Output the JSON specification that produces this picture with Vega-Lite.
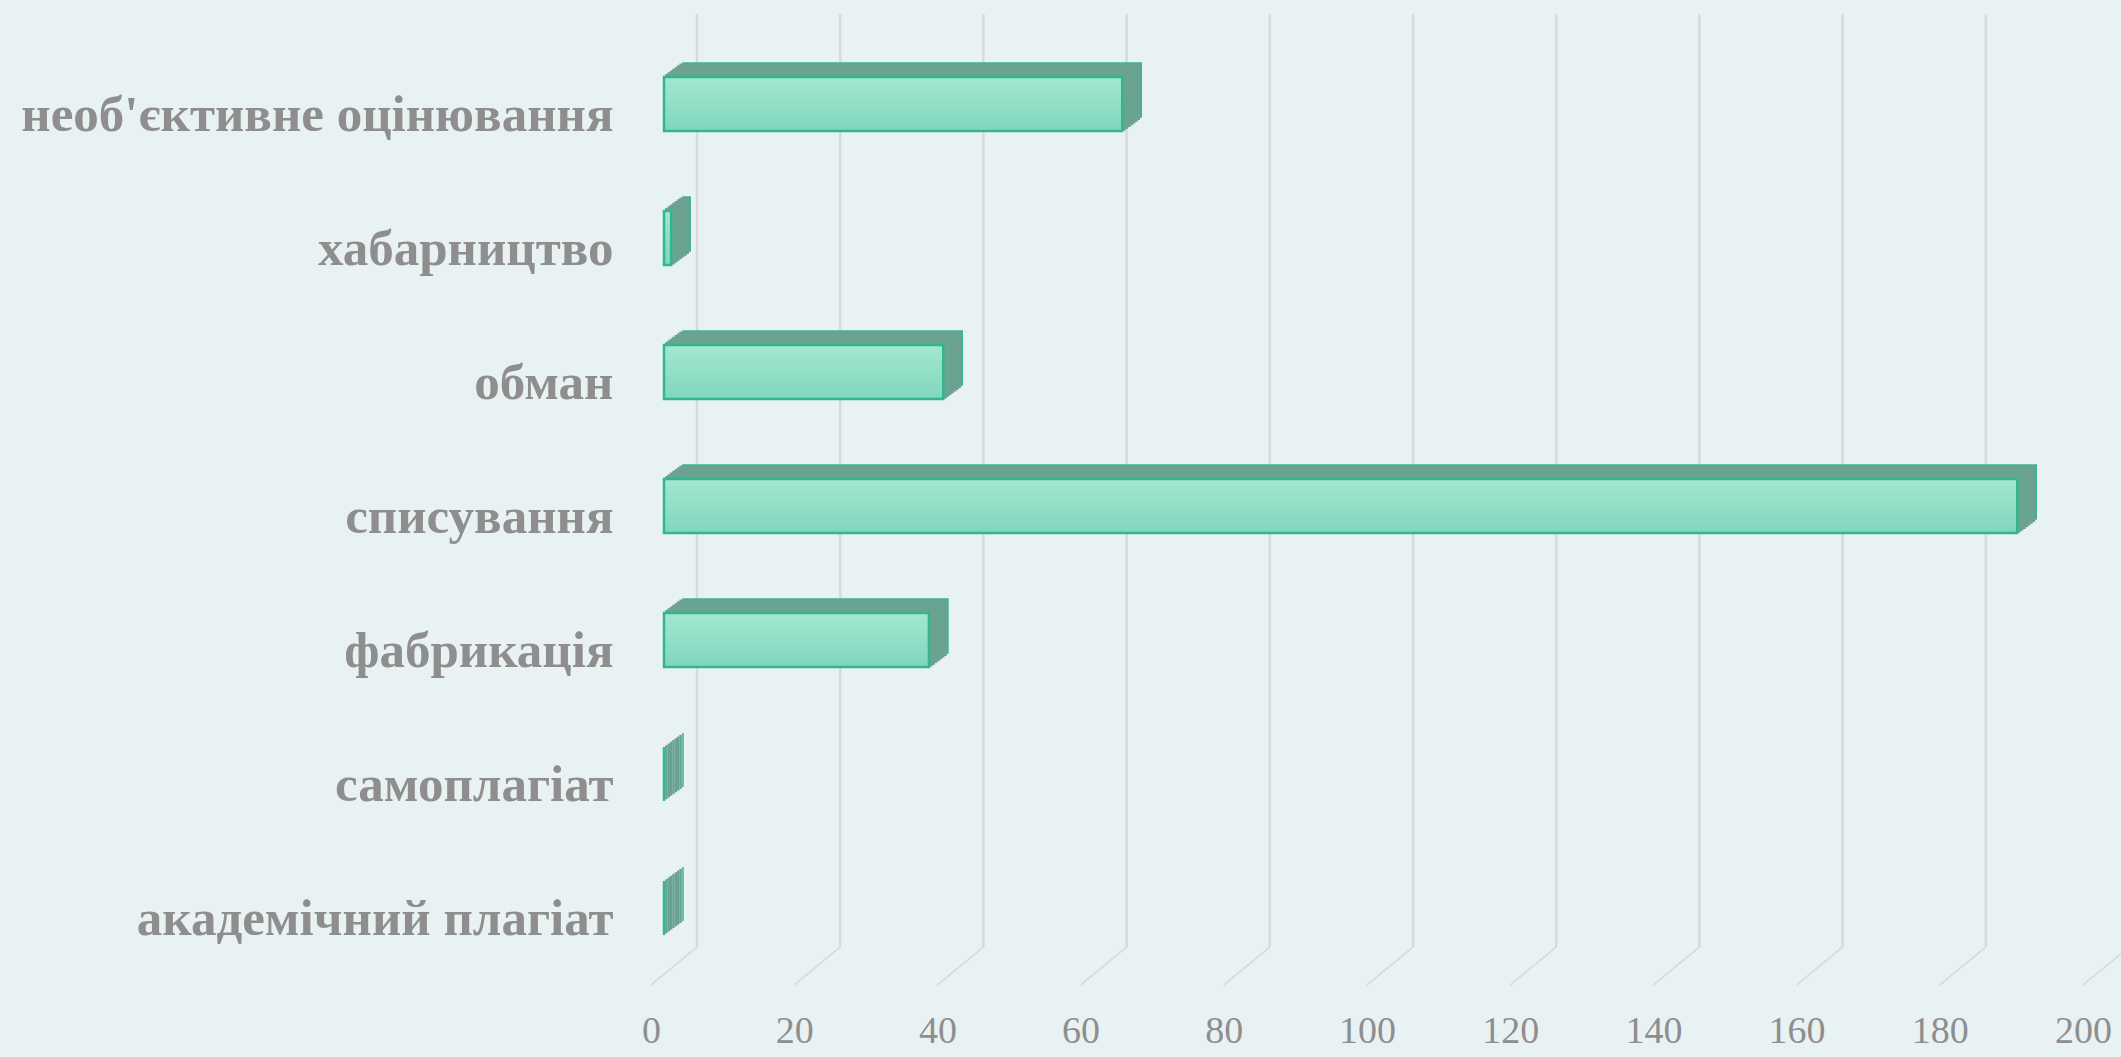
{
  "$schema": "https://vega.github.io/schema/vega-lite/v6.json",
  "width": 1432,
  "height": 938,
  "autosize": "none",
  "padding": {"left": 664, "top": 37, "right": 25, "bottom": 82},
  "background": "#e9f2f3",
  "config": {
    "view": {"stroke": null},
    "axisY": {"domain": false, "ticks": false, "labelPadding": 51,
      "labelOffset": 27, "labelBaseline": "alphabetic", "labelFont": "Liberation Serif",
      "labelFontWeight": "bold", "labelFontSize": 51, "labelColor": "#8e8e8e", "labelLimit": 1000},
    "axisX": {"grid": false, "domain": false, "ticks": false,
      "labelOffset": -13, "labelPadding": 67, "labelBaseline": "alphabetic",
      "labelFont": "Liberation Serif", "labelFontSize": 38, "labelColor": "#8e8e8e",
      "labelFlush": false}
  },
  "datasets": {
    "bars": [
      {"cat": "необ'єктивне оцінювання", "value": 64},
      {"cat": "хабарництво", "value": 1},
      {"cat": "обман", "value": 39},
      {"cat": "списування", "value": 189},
      {"cat": "фабрикація", "value": 37},
      {"cat": "самоплагіат", "value": 0},
      {"cat": "академічний плагіат", "value": 0}
    ],
    "ticks": [{"v":0},{"v":20},{"v":40},{"v":60},{"v":80},{"v":100},{"v":120},{"v":140},{"v":160},{"v":180},{"v":200}]
  },
  "layer": [
    {
      "data": {"name": "bars"},
      "mark": {"type": "bar", "opacity": 0},
      "encoding": {
        "y": {"field": "cat", "type": "nominal",
          "scale": {"domain": ["необ'єктивне оцінювання", "хабарництво", "обман", "списування", "фабрикація", "самоплагіат", "академічний плагіат"],
            "paddingInner": 0.597, "paddingOuter": 0.2985},
          "axis": {"title": null}},
        "x": {"field": "value", "type": "quantitative",
          "scale": {"domain": [0, 200], "nice": false},
          "axis": {"title": null, "values": [0, 20, 40, 60, 80, 100, 120, 140, 160, 180, 200]}}
      }
    },
    {
      "data": {"name": "ticks"},
      "mark": {"type": "rule", "color": "#d9d9d9", "strokeWidth": 2.5, "xOffset": 33, "yOffset": -90, "y2Offset": 39},
      "encoding": {
        "x": {"field": "v", "type": "quantitative"},
        "y": {"datum": "необ'єктивне оцінювання", "type": "nominal"},
        "y2": {"datum": "академічний плагіат"}
      }
    },
    {
      "data": {"name": "ticks"},
      "mark": {"type": "rule", "color": "#d6d6d6", "strokeWidth": 1.5, "xOffset": 33, "x2Offset": -13, "yOffset": 39, "y2Offset": 77},
      "encoding": {
        "x": {"field": "v", "type": "quantitative"},
        "x2": {"field": "v"},
        "y": {"datum": "академічний плагіат", "type": "nominal"},
        "y2": {"datum": "академічний плагіат"}
      }
    },
    {
      "data": {"name": "bars"},
      "encoding": {
        "y": {"field": "cat", "type": "nominal"},
        "x": {"field": "value", "type": "quantitative"}
      },
      "layer": [
        {"mark": {"type": "bar", "fill": "#6aa391", "stroke": "#38b58d", "strokeWidth": 1.5, "xOffset": 19, "x2Offset": 19, "yOffset": -14}},
        {"mark": {"type": "bar", "fill": "#6aa391", "stroke": "#6aa391", "strokeWidth": 2.5, "xOffset": 16.6, "x2Offset": 16.6, "yOffset": -12.25}},
        {"mark": {"type": "bar", "fill": "#6aa391", "stroke": "#6aa391", "strokeWidth": 2.5, "xOffset": 14.25, "x2Offset": 14.25, "yOffset": -10.5}},
        {"mark": {"type": "bar", "fill": "#6aa391", "stroke": "#6aa391", "strokeWidth": 2.5, "xOffset": 11.9, "x2Offset": 11.9, "yOffset": -8.75}},
        {"mark": {"type": "bar", "fill": "#6aa391", "stroke": "#6aa391", "strokeWidth": 2.5, "xOffset": 9.5, "x2Offset": 9.5, "yOffset": -7}},
        {"mark": {"type": "bar", "fill": "#6aa391", "stroke": "#6aa391", "strokeWidth": 2.5, "xOffset": 7.1, "x2Offset": 7.1, "yOffset": -5.25}},
        {"mark": {"type": "bar", "fill": "#6aa391", "stroke": "#6aa391", "strokeWidth": 2.5, "xOffset": 4.75, "x2Offset": 4.75, "yOffset": -3.5}},
        {"mark": {"type": "bar", "fill": "#6aa391", "stroke": "#6aa391", "strokeWidth": 2.5, "xOffset": 2.4, "x2Offset": 2.4, "yOffset": -1.75}}
      ]
    },
    {
      "data": {"name": "bars"},
      "mark": {"type": "bar", "stroke": "#32b68b", "strokeWidth": 2.5,
        "fill": {"gradient": "linear", "x1": 0, "y1": 0, "x2": 0, "y2": 1,
          "stops": [{"offset": 0, "color": "#a3e7d2"}, {"offset": 1, "color": "#7fd7bc"}]}},
      "encoding": {
        "y": {"field": "cat", "type": "nominal"},
        "x": {"field": "value", "type": "quantitative"}
      }
    }
  ]
}
